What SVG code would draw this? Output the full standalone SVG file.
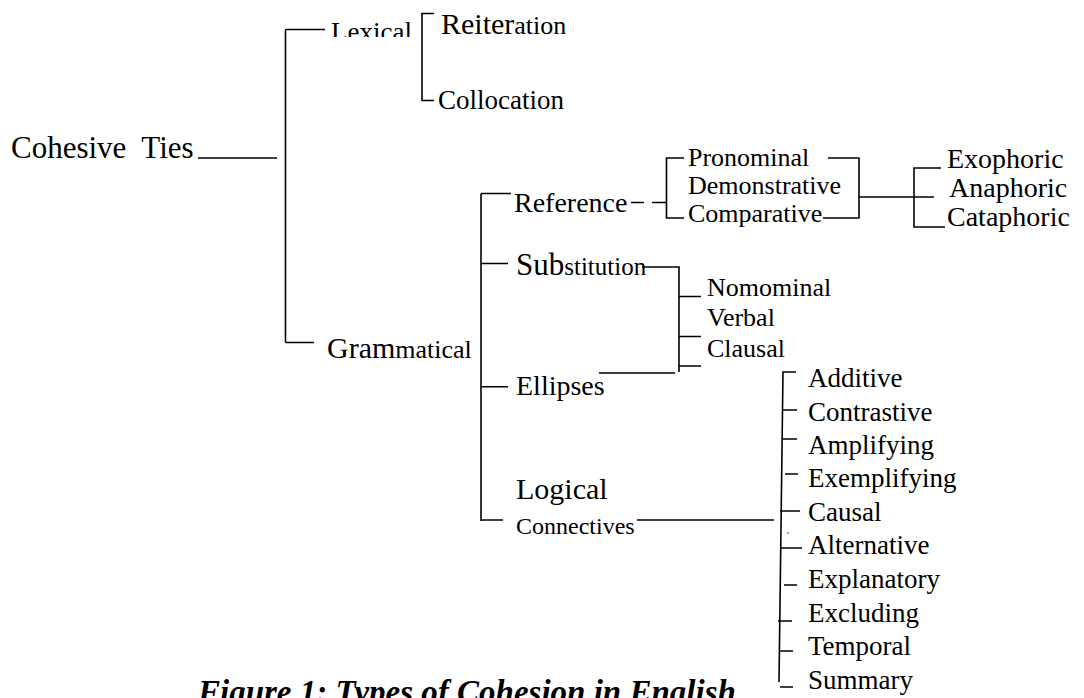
<svg xmlns="http://www.w3.org/2000/svg" width="1084" height="698" viewBox="0 0 1084 698">
<style>
.t{font-family:"Liberation Serif","Times New Roman",serif;fill:#000}
.c{stroke:#000;stroke-width:1.6;fill:none;stroke-linecap:butt}
.cap{font-family:"Liberation Serif","Times New Roman",serif;font-weight:bold;font-style:italic;font-size:33px;fill:#000}
.li{font-size:27px}
</style>
<defs>
<clipPath id="clipLex"><rect x="300" y="0" width="130" height="37"/></clipPath>
</defs>
<rect width="1084" height="698" fill="#fff"/>

<g id="connectors">
  <path class="c" d="M198 158H277"/>
  <path class="c" d="M285.5 29.5V342.5M285.5 29.5H325M285.5 342.5H314"/>
  <path class="c" d="M434 13.5H422V100.5H434"/>
  <path class="c" d="M481 193.5V521M481 193.5H511M481 263.5H508M481 386.7H508M481 520H503"/>
  <path class="c" d="M631 202.5H644M652 202.5H666.5"/>
  <path class="c" d="M684 158H666.5V218H684"/>
  <path class="c" d="M828 158H859V218H823"/>
  <path class="c" d="M859 197H914"/>
  <path class="c" d="M941 168H914V227H945M914 197H934"/>
  <path class="c" d="M642 267H679V372"/>
  <path class="c" d="M679 296.5H701M679 336.5H701M679 366H701"/>
  <path class="c" d="M599 373H675"/>
  <path class="c" d="M637 520H774"/>
  <path class="c" d="M796 372H783L779 682"/>
  <path class="c" d="M783 410H797M783 439H797M785 474H798M780 511H800M780 548H802M784 585H797M778 621H792M779 651H793M780 687H793"/>
  <circle cx="788" cy="533" r="0.7" fill="#000"/>
</g>

<g id="cohesive-ties"><text class="t" x="11" y="158" font-size="31" xml:space="preserve">Cohesive  Ties</text></g>
<g id="lexical"><text class="t" x="331" y="41" font-size="27" clip-path="url(#clipLex)">Lexical</text></g>
<g id="reiteration"><text class="t" x="441" y="34" font-size="30">Reiter<tspan font-size="26">ation</tspan></text></g>
<g id="collocation"><text class="t" x="438" y="109" font-size="27">Collocation</text></g>
<g id="grammatical"><text class="t" x="327" y="358" font-size="30">Gram<tspan font-size="26">matical</tspan></text></g>

<g id="reference"><text class="t" x="514" y="211.5" font-size="28">Reference</text></g>
<g id="pronominal"><text class="t" x="688" y="166" font-size="26">Pronominal</text></g>
<g id="demonstrative"><text class="t" x="688" y="194" font-size="26">Demonstrative</text></g>
<g id="comparative"><text class="t" x="688" y="222" font-size="26">Comparative</text></g>
<g id="exophoric"><text class="t" x="947" y="168" font-size="28">Exophoric</text></g>
<g id="anaphoric"><text class="t" x="949" y="197" font-size="28">Anaphoric</text></g>
<g id="cataphoric"><text class="t" x="947" y="226" font-size="28">Cataphoric</text></g>

<g id="substitution"><text class="t" x="516" y="275" font-size="31">Sub<tspan font-size="25">stitution</tspan></text></g>
<g id="nomominal"><text class="t" x="707" y="296" font-size="26">Nomominal</text></g>
<g id="verbal"><text class="t" x="707" y="326" font-size="26">Verbal</text></g>
<g id="clausal"><text class="t" x="707" y="357" font-size="26">Clausal</text></g>
<g id="ellipses"><text class="t" x="516" y="395" font-size="28">Ellipses</text></g>

<g id="logical-connectives">
  <text class="t" x="516" y="499" font-size="30">Logical</text>
  <text class="t" x="516" y="534" font-size="24">Connectives</text>
</g>
<g id="additive"><text class="t li" x="808" y="387">Additive</text></g>
<g id="contrastive"><text class="t li" x="808" y="420.7">Contrastive</text></g>
<g id="amplifying"><text class="t li" x="808" y="454">Amplifying</text></g>
<g id="exemplifying"><text class="t li" x="808" y="487.3">Exemplifying</text></g>
<g id="causal"><text class="t li" x="808" y="520.7">Causal</text></g>
<g id="alternative"><text class="t li" x="808" y="554">Alternative</text></g>
<g id="explanatory"><text class="t li" x="808" y="588.3">Explanatory</text></g>
<g id="excluding"><text class="t li" x="808" y="621.7">Excluding</text></g>
<g id="temporal"><text class="t li" x="808" y="655">Temporal</text></g>
<g id="summary"><text class="t li" x="808" y="689.3">Summary</text></g>

<g id="caption"><text class="cap" x="198" y="703">Figure 1: Types of Cohesion in English</text></g>
</svg>
